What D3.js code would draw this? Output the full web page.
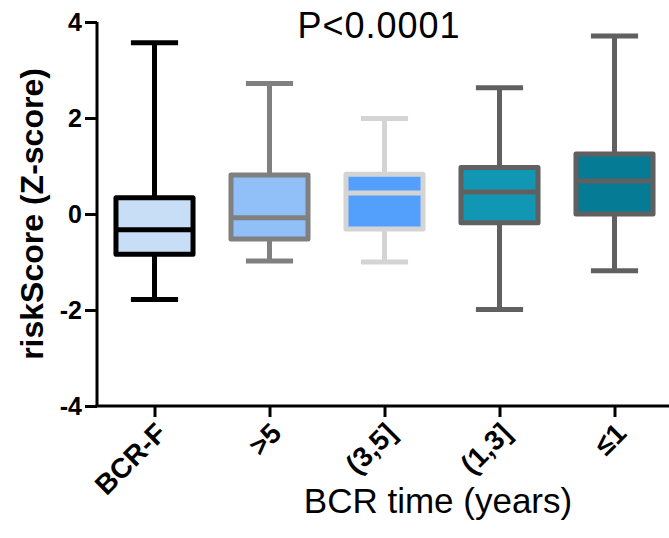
<!DOCTYPE html>
<html>
<head>
<meta charset="utf-8">
<script src="https://cdn.jsdelivr.net/npm/d3@7"></script>
<style>
  body { margin: 0; background: #fff; }
  text { font-family: Arial, "Liberation Sans", sans-serif; }
</style>
</head>
<body>
<div id="chart"></div>
<script>
// Box plot of riskScore by BCR time group

// Data
let groups = ["BCR-F", ">5", "(3,5]", "(1,3]", "≤1"];
let whiskerLow = [-1.78, -0.98, -1.00, -1.99, -1.18];
let q1 = [-0.84, -0.52, -0.31, -0.18, 0.00];
let median = [-0.33, -0.08, 0.44, 0.46, 0.69];
let q3 = [0.34, 0.81, 0.83, 0.97, 1.25];
let whiskerHigh = [3.57, 2.72, 1.99, 2.63, 3.71];
let yTicks = [-4, -2, 0, 2, 4];

let fills = ["#c8ddf6", "#91bff8", "#52a0fc", "#1196b3", "#067b96"];
let strokes = ["#000000", "#808080", "#d4d4d4", "#606060", "#606060"];

let width = 669, height = 538;

let svg = d3.select("#chart")
	.append("svg")
	.attr("width", width)
	.attr("height", height);

let x = d3.scalePoint()
	.domain(groups)
	.range([97, 672])
	.padding(0.5);

let y = d3.scaleLinear()
	.domain([-4, 4])
	.range([406, 22]);

let step = x.step();
let boxW = step * 0.67;
let capW = step * 0.41;

let rows = groups.map((g, i) => ({
	name: g, lo: whiskerLow[i], q1: q1[i], med: median[i], q3: q3[i], hi: whiskerHigh[i],
	fill: fills[i], stroke: strokes[i]
}));

let box = svg.selectAll(".box")
	.data(rows)
	.enter().append("g")
	.attr("class", "box")
	.attr("transform", d => "translate(" + x(d.name) + ",0)");

// whisker lines
box.append("line")
	.attr("y1", d => y(d.hi)).attr("y2", d => y(d.q3))
	.attr("stroke", d => d.stroke).attr("stroke-width", 5);
box.append("line")
	.attr("y1", d => y(d.q1)).attr("y2", d => y(d.lo))
	.attr("stroke", d => d.stroke).attr("stroke-width", 5);

// caps
box.selectAll(".cap")
	.data(d => [d.hi, d.lo].map(v => ({ v: v, stroke: d.stroke })))
	.enter().append("line")
	.attr("class", "cap")
	.attr("x1", -capW / 2).attr("x2", capW / 2)
	.attr("y1", d => y(d.v)).attr("y2", d => y(d.v))
	.attr("stroke", d => d.stroke).attr("stroke-width", 5);

// box body
box.append("rect")
	.attr("x", -boxW / 2)
	.attr("width", boxW)
	.attr("y", d => y(d.q3))
	.attr("height", d => y(d.q1) - y(d.q3))
	.attr("fill", d => d.fill)
	.attr("stroke", d => d.stroke)
	.attr("stroke-width", 5)
	.attr("stroke-linejoin", "round");

// median
box.append("line")
	.attr("x1", -boxW / 2).attr("x2", boxW / 2)
	.attr("y1", d => y(d.med)).attr("y2", d => y(d.med))
	.attr("stroke", d => d.stroke).attr("stroke-width", 5);

// y axis
let yAxis = svg.append("g")
	.attr("transform", "translate(97,0)")
	.call(d3.axisLeft(y).tickValues(yTicks).tickSize(12).tickPadding(3).tickFormat(d3.format("d")));
yAxis.select(".domain").attr("stroke", "#000").attr("stroke-width", 3).attr("d", "M0," + y(4) + "V" + y(-4));
yAxis.selectAll(".tick line").attr("stroke", "#000").attr("stroke-width", 3);
yAxis.selectAll(".tick text")
	.attr("fill", "#000")
	.style("font-size", "25px")
	.style("font-weight", "bold")
	.text(d => d < 0 ? "-" + Math.abs(d) : d);

// x axis
let xAxis = svg.append("g")
	.attr("transform", "translate(0,406)")
	.call(d3.axisBottom(x).tickSize(11));
xAxis.select(".domain").attr("stroke", "#000").attr("stroke-width", 3).attr("d", "M95.5,0H" + width);
xAxis.selectAll(".tick line").attr("stroke", "#000").attr("stroke-width", 3);
xAxis.selectAll(".tick text")
	.attr("fill", "#000")
	.style("font-size", "28px")
	.style("font-weight", "bold")
	.attr("text-anchor", "end")
	.attr("y", 0).attr("dy", 0)
	.attr("transform", "translate(13,29) rotate(-45)");

// titles
svg.append("text")
	.attr("x", 379).attr("y", 38)
	.attr("text-anchor", "middle")
	.style("font-size", "36px")
	.style("letter-spacing", "1px")
	.text("P<0.0001");

svg.append("text")
	.attr("x", 438).attr("y", 513)
	.attr("text-anchor", "middle")
	.style("font-size", "35px")
	.text("BCR time (years)");

svg.append("text")
	.attr("transform", "translate(43,214) rotate(-90)")
	.attr("text-anchor", "middle")
	.style("font-size", "32px")
	.style("font-weight", "bold")
	.text("riskScore (Z-score)");
</script>
</body>
</html>
